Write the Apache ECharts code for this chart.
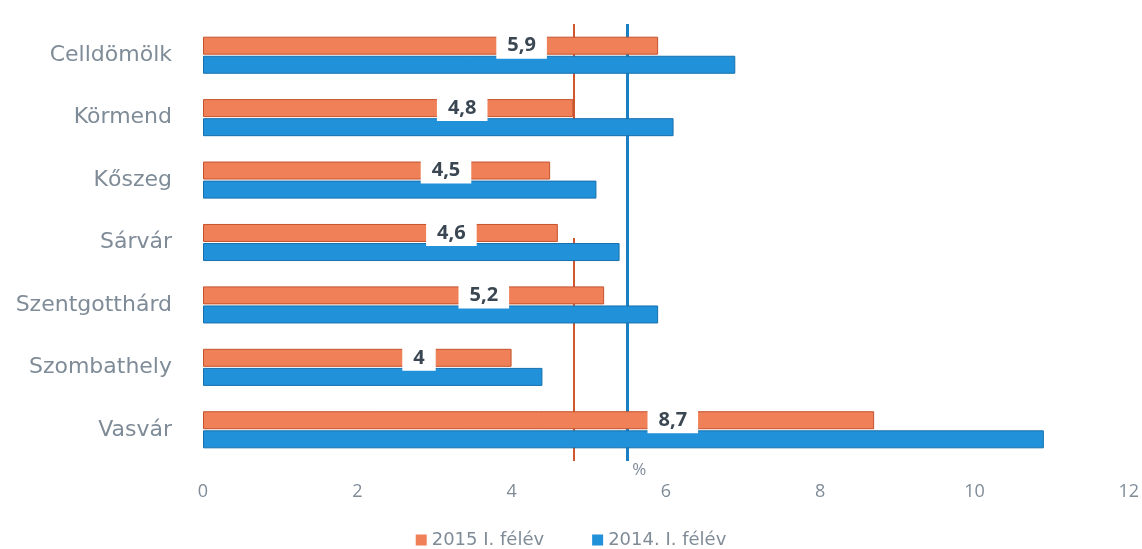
<!DOCTYPE html>
<html>
<head>
<meta charset="utf-8">
<script src="https://cdn.jsdelivr.net/npm/echarts@6/dist/echarts.min.js"></script>
<style>
html, body { margin: 0; padding: 0; background: #ffffff; }
#main { width: 1142px; height: 549px; }
</style>
</head>
<body>
<div id="main"></div>
<script>
var cities = ['Celldömölk', 'Körmend', 'Kőszeg', 'Sárvár', 'Szentgotthárd', 'Szombathely', 'Vasvár'];
var h2015 = [5.9, 4.8, 4.5, 4.6, 5.2, 4, 8.7];   // 2015 I. félév
var h2014 = [6.9, 6.1, 5.1, 5.4, 5.9, 4.4, 10.9]; // 2014. I. félév
var avg2015 = 4.8; // megyei átlag
var avg2014 = 5.5;
var xTicks = [0, 2, 4, 6, 8, 10, 12];

var orange = '#ef8058';
var blue = '#2191da';
var grey = '#7f8c98';

var myChart = echarts.init(document.getElementById('main'));
var option = {
	backgroundColor : '#ffffff',
	animation : false,
	grid : {
		left : 203,
		right : 12,
		top : 24,
		bottom : 88
	},
	legend : {
		bottom : -5,
		left : 'center',
		itemWidth : 11,
		itemHeight : 11,
		itemGap : 48,
		icon : 'rect',
		itemStyle : { borderWidth : 0 },
		textStyle : {
			color : grey,
			fontSize : 18,
			fontFamily : 'DejaVu Sans'
		},
		data : ['2015 I. félév', '2014. I. félév']
	},
	// fehér folt a vonalak közt (eredeti képen is)
	graphic : [ {
		type : 'rect',
		left : 572,
		top : 136,
		z : 3,
		shape : { width : 51, height : 102 },
		style : { fill : '#ffffff' }
	} ],
	xAxis : {
		type : 'value',
		min : xTicks[0],
		max : xTicks[xTicks.length - 1],
		interval : 2,
		splitLine : { show : false },
		axisLine : { show : false },
		axisTick : { show : false },
		axisLabel : {
			color : grey,
			fontSize : 18,
			fontFamily : 'Open Sans',
			margin : 22
		}
	},
	yAxis : {
		type : 'category',
		inverse : true,
		data : cities,
		axisLine : { show : false },
		axisTick : { show : false },
		axisLabel : {
			color : grey,
			fontSize : 22,
			fontFamily : 'DejaVu Sans',
			margin : 31
		}
	},
	series : [ {
		name : '2015 I. félév',
		type : 'bar',
		z : 5,
		data : h2015,
		barWidth : 18,
		barGap : '6%',
		itemStyle : {
			color : orange,
			borderColor : '#c4532d',
			borderWidth : 1
		},
		label : {
			show : true,
			position : ['70%', '50%'],
			align : 'center',
			verticalAlign : 'middle',
			formatter : function(p) {
				return String(p.value).replace('.', ',');
			},
			color : '#3a4753',
			fontWeight : 'bold',
			fontSize : 20,
			fontFamily : 'Open Sans',
			backgroundColor : '#ffffff',
			padding : [3, 11, 3, 11]
		}
	}, {
		name : '2014. I. félév',
		type : 'bar',
		z : 4,
		data : h2014,
		barWidth : 18,
		itemStyle : {
			color : blue,
			borderColor : '#1670ad',
			borderWidth : 1
		}
	}, {
		name : 'átlag',
		type : 'line',
		z : 1,
		data : [],
		markLine : {
			z : 1,
			silent : true,
			symbol : 'none',
			data : [ {
				xAxis : avg2015,
				label : { show : false },
				lineStyle : { color : '#d0562c', width : 2, type : 'solid' }
			}, {
				xAxis : avg2014,
				label : {
					show : true,
					position : 'end',
					formatter : '%',
					color : grey,
					fontSize : 17,
					fontFamily : 'Open Sans',
					offset : [12, -4]
				},
				lineStyle : { color : '#1a80c6', width : 3, type : 'solid' }
			} ]
		}
	} ]
};
myChart.setOption(option);
</script>
</body>
</html>
